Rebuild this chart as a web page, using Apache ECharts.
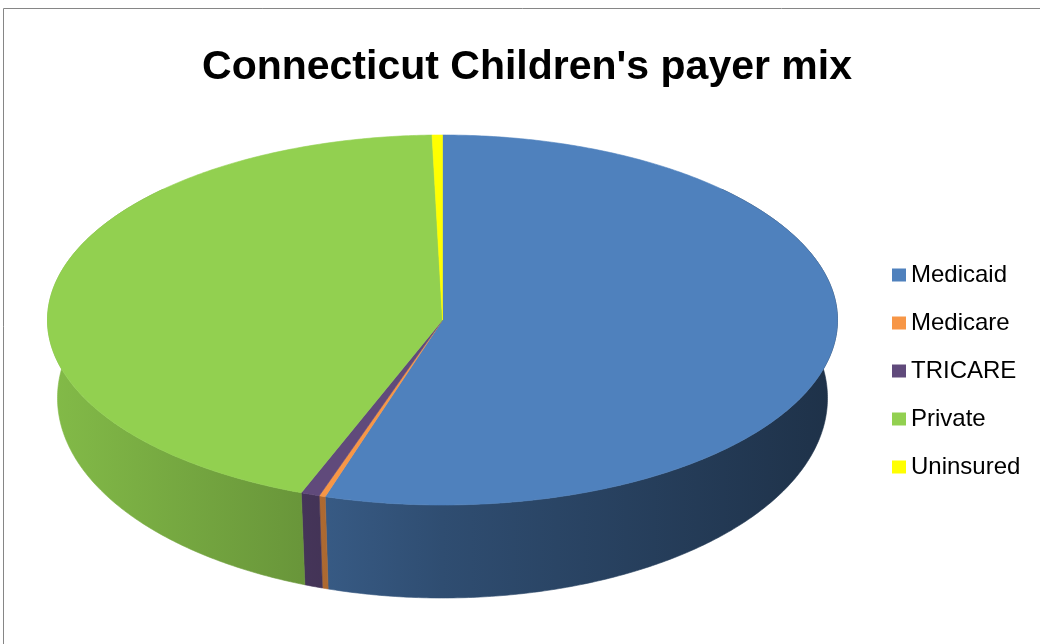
<!DOCTYPE html>
<html>
<head>
<meta charset="utf-8">
<script src="https://cdn.jsdelivr.net/npm/echarts@6/dist/echarts.min.js"></script>
<style>html,body{margin:0;padding:0;background:#fff}#c{width:1040px;height:644px}</style>
</head>
<body>
<div id="c"></div>
<script>
const titleText = "Connecticut Children's payer mix";
const categories = ['Medicaid', 'Medicare', 'TRICARE', 'Private', 'Uninsured'];
const values = [54.8, 0.25, 0.77, 43.76, 0.42];
const colors = ['#4f81bd', '#f79646', '#604a7b', '#92d050', '#ffff00'];

// 3D pie layout
const P = { cx: 442.5, cy: 320, rx: 395, ry: 185, cxb: 442.5, cyb: 398, rxb: 385, ryb: 200 };

function shade(hex, f) {
  const n = parseInt(hex.slice(1), 16);
  const r = Math.round(((n >> 16) & 255) * f), g = Math.round(((n >> 8) & 255) * f), b = Math.round((n & 255) * f);
  return 'rgb(' + r + ',' + g + ',' + b + ')';
}
const total = values.reduce((a, b) => a + b, 0);
function topPt(t) { return [P.cx + P.rx * Math.sin(t), P.cy - P.ry * Math.cos(t)]; }
function botPt(t) { return [P.cxb + P.rxb * Math.sin(t), P.cyb - P.ryb * Math.cos(t)]; }

function renderSlice(params, api) {
  const i = params.seriesIndex;
  let before = 0;
  for (let k = 0; k < i; k++) before += values[k];
  const v = api.value(0);
  const a0 = before / total * Math.PI * 2;
  const a1 = (before + v) / total * Math.PI * 2;
  const color = colors[i];
  const children = [];
  // side wall (front part)
  const s0 = Math.max(a0, Math.PI * 0.25), s1 = Math.min(a1, Math.PI * 1.75);
  if (s1 > s0) {
    const n = Math.max(2, Math.ceil((s1 - s0) / 0.01));
    const pts = [];
    for (let k = 0; k <= n; k++) pts.push(topPt(s0 + (s1 - s0) * k / n));
    for (let k = n; k >= 0; k--) pts.push(botPt(s0 + (s1 - s0) * k / n));
    const x0 = P.cx - P.rx, x1 = P.cx + P.rx;
    const grad = new echarts.graphic.LinearGradient(x0, 0, x1, 0, [
      { offset: 0, color: shade(color, 0.90) },
      { offset: 0.32, color: shade(color, 0.72) },
      { offset: 0.50, color: shade(color, 0.60) },
      { offset: 1, color: shade(color, 0.38) }
    ], true);
    children.push({ type: 'polygon', z2: 1, shape: { points: pts }, style: { fill: grad, stroke: grad, lineWidth: 0.6 } });
  }
  // top face
  const n2 = Math.max(2, Math.ceil((a1 - a0) / 0.01));
  const tp = [[P.cx, P.cy]];
  for (let k = 0; k <= n2; k++) tp.push(topPt(a0 + (a1 - a0) * k / n2));
  children.push({ type: 'polygon', z2: 10, shape: { points: tp }, style: { fill: color, stroke: color, lineWidth: 0.6 } });
  return { type: 'group', children: children };
}

const series = categories.map((name, i) => ({
  type: 'custom',
  name: name,
  coordinateSystem: 'none',
  itemStyle: { color: colors[i] },
  renderItem: renderSlice,
  data: [[values[i]]],
  silent: true
}));

const chart = echarts.init(document.getElementById('c'), null, { renderer: 'canvas' });
chart.setOption({
  animation: false,
  backgroundColor: '#ffffff',
  title: {
    text: titleText,
    left: 522,
    textAlign: 'center',
    top: 42,
    textStyle: { fontFamily: 'Liberation Sans', fontWeight: 'bold', fontSize: 41, color: '#000' }
  },
  legend: {
    orient: 'vertical',
    left: 887,
    top: 258,
    icon: 'rect',
    itemWidth: 14,
    itemHeight: 13,
    itemGap: 24,
    data: categories,
    selectedMode: false,
    textStyle: { fontFamily: 'Liberation Sans', fontSize: 24, color: '#000', lineHeight: 24, padding: [0, 0, 0, 0] }
  },
  graphic: [{
    type: 'rect', silent: true, z: -1,
    shape: { x: 3.5, y: 8.5, width: 1100, height: 700 },
    style: { fill: 'none', stroke: '#868686', lineWidth: 1 }
  }],
  series: series
});
</script>
</body>
</html>
